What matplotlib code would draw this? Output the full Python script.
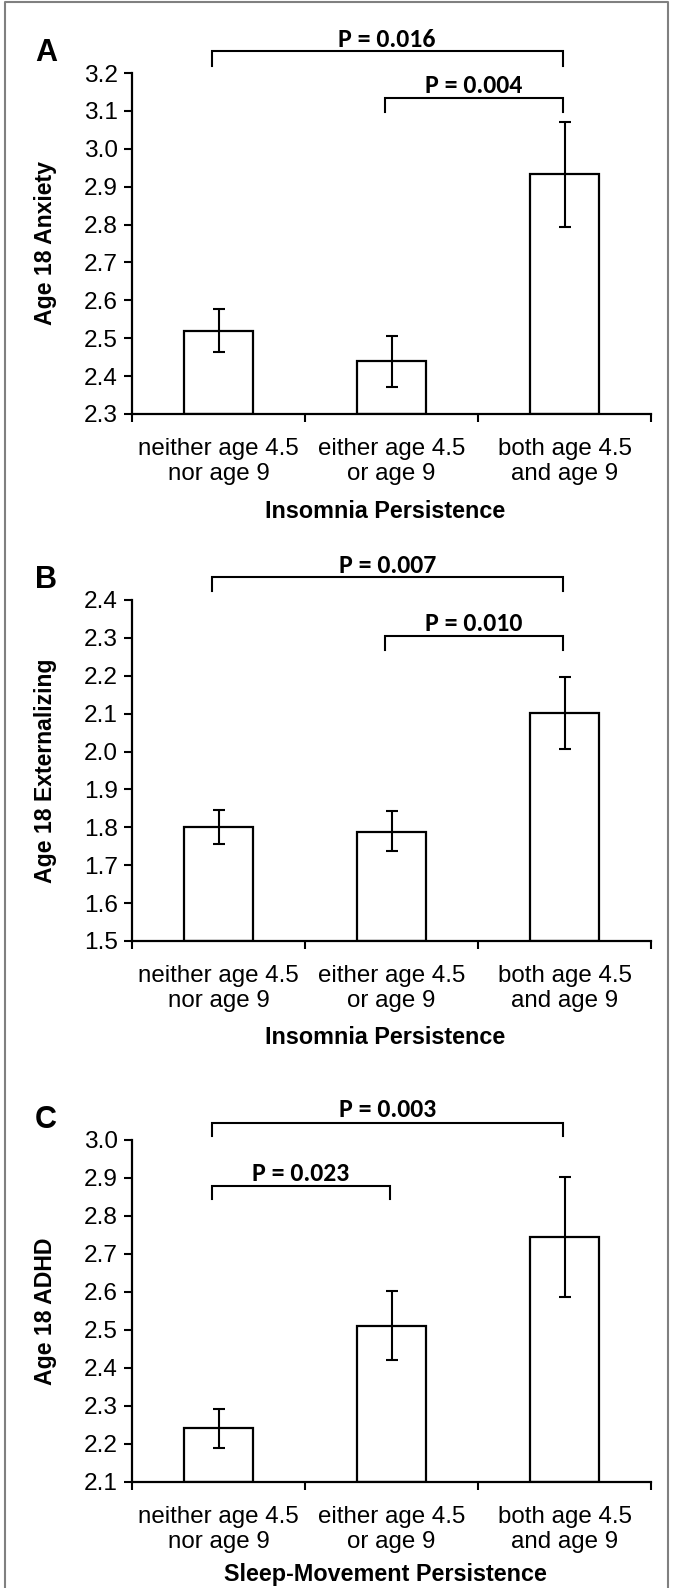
import matplotlib
matplotlib.use("Agg")
import matplotlib.pyplot as plt
from matplotlib import font_manager
from matplotlib.font_manager import FontProperties
from matplotlib.lines import Line2D

# category labels (same for every panel), two lines each
groups_l1 = ["neither age 4.5", "either age 4.5", "both age 4.5"]
groups_l2 = ["nor age 9", "or age 9", "and age 9"]

# panel A - anxiety
anx_mean = [2.52, 2.44, 2.934]
anx_low = [2.463, 2.370, 2.793]
anx_high = [2.577, 2.505, 3.071]

# panel B - externalizing
ext_mean = [1.80, 1.789, 2.103]
ext_low = [1.755, 1.737, 2.008]
ext_high = [1.846, 1.842, 2.198]

# panel C - ADHD
adhd_mean = [2.241, 2.511, 2.744]
adhd_low = [2.190, 2.420, 2.586]
adhd_high = [2.292, 2.603, 2.903]

# brackets: (from group, to group, y level, drop level, text y, text)
anx_brackets = [(0, 2, 3.257, 3.218, 3.289, "P = 0.016"),
                (1, 2, 3.134, 3.096, 3.167, "P = 0.004")]
ext_brackets = [(0, 2, 2.460, 2.424, 2.492, "P = 0.007"),
                (1, 2, 2.305, 2.268, 2.338, "P = 0.010")]
adhd_brackets = [(0, 2, 3.046, 3.011, 3.080, "P = 0.003"),
                 (0, 1, 2.878, 2.844, 2.912, "P = 0.023")]


def pick(*names):
    for n in names:
        try:
            font_manager.findfont(FontProperties(family=n), fallback_to_default=False)
            return [n, "DejaVu Sans"]
        except Exception:
            continue
    return ["DejaVu Sans"]


SANS = pick("Liberation Sans", "Arimo", "DejaVu Sans")
NARROW = pick("Liberation Sans Narrow", "Arimo", "Liberation Sans")
P_FONT = pick("Carlito", "Lato", "Noto Sans", "Liberation Sans")

W, H = 673, 1588
fig = plt.figure(figsize=(W / 100, H / 100), dpi=100)
renderer = fig.canvas.get_renderer()


def fit(txt, target_px, **kw):
    t = fig.text(0, 0, txt, fontsize=10, **kw)
    w = t.get_window_extent(renderer=renderer).width
    t.remove()
    return 10 * target_px / w


fs_tick = fit("neither age 4.5", 162, family=NARROW)
fs_ytick = fit("3.2", 34, family=NARROW)
fs_xlab = fit("Insomnia Persistence", 240, family=NARROW, fontweight="bold")
fs_ylab = fit("Age 18 Anxiety", 165, family=SANS, fontweight="bold")
fs_p = fit("P = 0.016", 97, family=P_FONT, fontweight="bold")
fs_letter = fit("A", 22, family=SANS, fontweight="bold")

# grey frame round the figure (its bottom edge is cropped off in the original)
fx = [5 / W, 5 / W, 1 - 5 / W, 1 - 5 / W]
fy = [0, 1 - 2 / H, 1 - 2 / H, 0]
fig.lines.append(Line2D(fx, fy, transform=fig.transFigure, color="#808080", linewidth=1.5))

LEFT, RIGHT = 132, 651


def panel(top_px, bottom_px, mean, low, high, ymin, ymax, ylabel, xlabel, letter, brackets,
          xlab_off=97):
    ax = fig.add_axes([LEFT / W, 1 - bottom_px / H, (RIGHT - LEFT) / W, (bottom_px - top_px) / H])
    x = [0.5, 1.5, 2.5]
    err = [[m - l for m, l in zip(mean, low)], [h - m for m, h in zip(mean, high)]]
    ax.bar(x, [m - ymin for m in mean], bottom=ymin, width=0.40, color="white",
           edgecolor="black", linewidth=1.6, zorder=2)
    ax.errorbar(x, mean, yerr=err, fmt="none", ecolor="black", elinewidth=1.5,
                capsize=4, capthick=1.5, zorder=3)
    ax.set_xlim(0, 3)
    ax.set_ylim(ymin, ymax)
    for s in ["top", "right"]:
        ax.spines[s].set_visible(False)
    for s in ["left", "bottom"]:
        ax.spines[s].set_linewidth(1.6)

    ax.set_xticks([0, 1, 2, 3])
    ax.set_xticklabels([])
    ax.tick_params(axis="x", direction="out", length=6, width=1.5)
    for xi, l1, l2 in zip(x, groups_l1, groups_l2):
        ax.annotate(l1, (xi, 0), xycoords=("data", "axes fraction"), xytext=(0, -35 * 0.72),
                    textcoords="offset points", ha="center", va="center",
                    fontsize=fs_tick, family=NARROW)
        ax.annotate(l2, (xi, 0), xycoords=("data", "axes fraction"), xytext=(0, -60 * 0.72),
                    textcoords="offset points", ha="center", va="center",
                    fontsize=fs_tick, family=NARROW)

    n = int(round((ymax - ymin) / 0.1))
    yt = [ymin + 0.1 * i for i in range(n + 1)]
    ax.set_yticks(yt)
    ax.set_yticklabels([f"{v:.1f}" for v in yt], fontsize=fs_ytick, family=NARROW)
    ax.tick_params(axis="y", direction="out", length=6, width=1.5, pad=4)

    fig.text(46 / W, 1 - (top_px + bottom_px) / 2 / H, ylabel, rotation=90, ha="center",
             va="center", fontsize=fs_ylab, fontweight="bold", family=SANS)
    fig.text(385 / W, 1 - (bottom_px + xlab_off) / H, xlabel, ha="center", va="center",
             fontsize=fs_xlab, fontweight="bold", family=NARROW)

    for g0, g1, yb, yd, ytxt, txt in brackets:
        x0 = x[g0] - 0.04
        x1 = x[g1] - 0.01
        ax.plot([x0, x0, x1, x1], [yd, yb, yb, yd], color="black", linewidth=1.5,
                clip_on=False, solid_joinstyle="miter")
        ax.text((x0 + x1) / 2, ytxt, txt, ha="center", va="center", fontsize=fs_p,
                fontweight="bold", family=P_FONT, clip_on=False)

    fig.text(46 / W, 1 - (top_px - 20) / H, letter, ha="center", va="center",
             fontsize=fs_letter, fontweight="bold", family=SANS)
    return ax


panel(73, 414, anx_mean, anx_low, anx_high, 2.3, 3.2,
      "Age 18 Anxiety", "Insomnia Persistence", "A", anx_brackets)
panel(600, 941, ext_mean, ext_low, ext_high, 1.5, 2.4,
      "Age 18 Externalizing", "Insomnia Persistence", "B", ext_brackets)
panel(1140, 1482, adhd_mean, adhd_low, adhd_high, 2.1, 3.0,
      "Age 18 ADHD", "Sleep-Movement Persistence", "C", adhd_brackets, xlab_off=92)

fig.savefig("out.png", dpi=100)
plt.close(fig)
